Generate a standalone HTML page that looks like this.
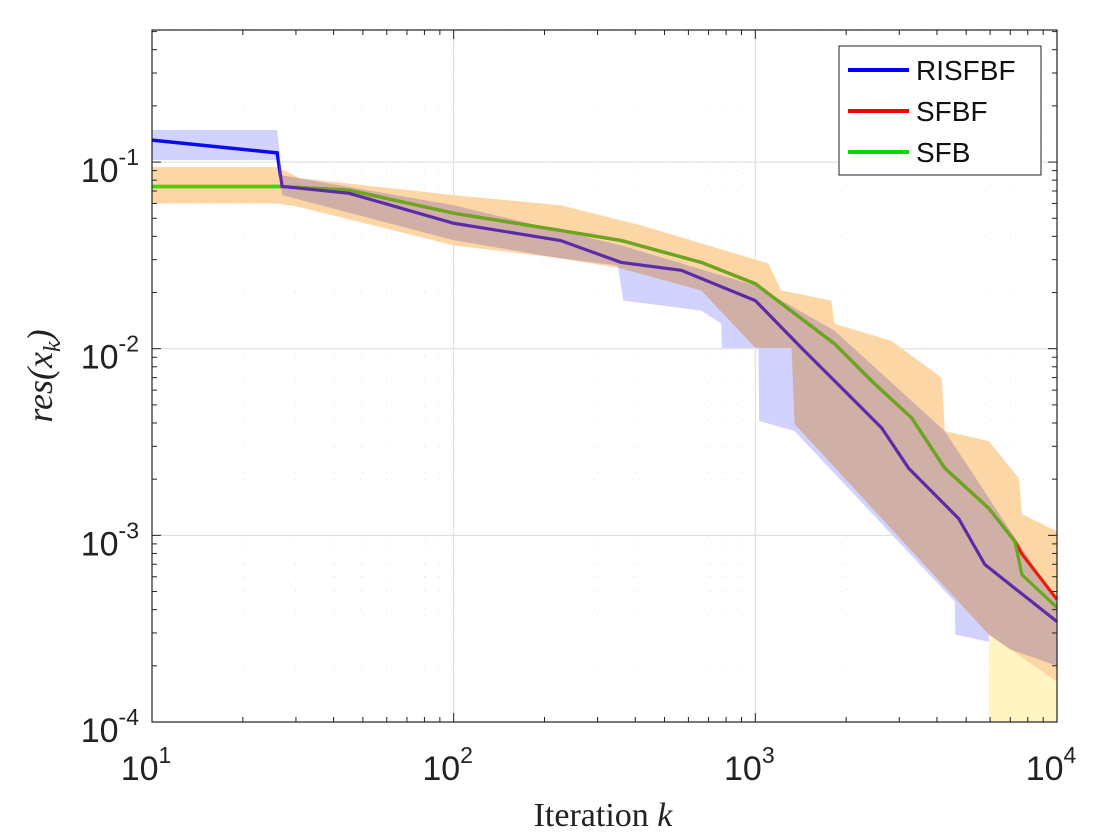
<!DOCTYPE html>
<html><head><meta charset="utf-8"><style>
body{margin:0;background:#fff;}
svg{display:block;font-family:"Liberation Sans",sans-serif;}
</style></head><body>
<svg id="chart" width="1120" height="840" viewBox="0 0 1120 840" xmlns="http://www.w3.org/2000/svg">
<defs>
<clipPath id="plotclip"><rect x="152" y="30" width="905" height="692"/></clipPath>
<clipPath id="lateclip"><rect x="279" y="0" width="900" height="840"/></clipPath>
<clipPath id="earlyclip"><rect x="0" y="0" width="279" height="840"/></clipPath>
</defs>
<rect x="152" y="30" width="905" height="692" fill="#fff"/>
<g id="grid"></g>
<g id="bands" clip-path="url(#plotclip)"></g>
<g id="lines" clip-path="url(#plotclip)"></g>
<g id="axes"></g>
<text x="603" y="826" text-anchor="middle" font-family="Liberation Serif,serif" font-size="34" fill="#222">Iteration <tspan font-style="italic">k</tspan></text>
<text transform="translate(52,376) rotate(-90)" text-anchor="middle" font-family="Liberation Serif,serif" font-size="36" font-style="italic" fill="#222">res(x<tspan font-size="24" dy="8">k</tspan><tspan dy="-8">)</tspan></text>
<g>
<rect x="839" y="46" width="202" height="129" fill="#fff" stroke="#222" stroke-width="1"/>
<line x1="848" y1="70" x2="909" y2="70" stroke="#0000ff" stroke-width="4"/>
<text x="916" y="80" font-size="28" fill="#111">RISFBF</text>
<line x1="848" y1="111" x2="909" y2="111" stroke="#ff0000" stroke-width="4"/>
<text x="916" y="121" font-size="28" fill="#111">SFBF</text>
<line x1="848" y1="152" x2="909" y2="152" stroke="#00dd00" stroke-width="4"/>
<text x="916" y="162" font-size="28" fill="#111">SFB</text>
</g>
</svg>
<script>
const xTickExps=[1,2,3,4];
const yTickExps=[-1,-2,-3,-4];
const risK=[10,26,27,45,100,226,359,568,1000,1422,1977,2624,3222,4721,5764,7477,10000];
const risV=[0.131,0.112,0.074,0.068,0.047,0.038,0.029,0.0263,0.0181,0.0101,0.00594,0.00376,0.00229,0.00123,0.000698,0.0005,0.000345];
const sfbK=[10,27,45,100,226,359,662,1000,1829,2427,3296,4246,5943,7250,7650,10000];
const sfbV=[0.074,0.074,0.0707,0.0532,0.043,0.038,0.029,0.0223,0.01064,0.00673,0.00426,0.00229,0.001396,0.000929,0.000616,0.00041];
const sfbfK=[10,27,45,100,226,359,662,1000,1829,2427,3296,4246,5943,7250,7650,10000];
const sfbfV=[0.074,0.074,0.0707,0.0532,0.043,0.038,0.029,0.0223,0.01064,0.00673,0.00426,0.00229,0.001396,0.000929,0.000795,0.000453];
const orUpK=[10,26,31,100,226,418,662,1104,1219,1786,1829,2831,4150,4246,5943,7477,7650,10000];
const orUpV=[0.094,0.094,0.082,0.0665,0.0587,0.0458,0.0367,0.0286,0.0205,0.0181,0.0136,0.011,0.00698,0.00362,0.0032,0.00202,0.0013,0.00105];
const orLoK=[10,26,30,100,226,359,662,1000,1318,1349,5943,10000];
const orLoV=[0.06,0.06,0.058,0.0358,0.0305,0.0269,0.0205,0.0101,0.0101,0.00395,0.000294,0.000164];
const tailK=[5943,10000];
const tailUpV=[0.000294,0.000164];
const tailLoV=[0.0001,0.0001];
const blUpK=[10,26,27,100,359,1000,1829,4246,10000];
const blUpV=[0.1486,0.1486,0.085,0.0587,0.0358,0.0218,0.0125,0.00362,0.000442];
const blLoK=[10,26,27,100,226,350,365,662,771,775,1023,1030,1349,4581,4600,5943,10000];
const blLoV=[0.1026,0.1026,0.0665,0.0381,0.0305,0.0279,0.0181,0.016,0.0136,0.0101,0.0101,0.0041,0.00362,0.000442,0.000294,0.000269,0.0002];

const NS='http://www.w3.org/2000/svg';
const L=152,R=1057,T=30,B=722;
function xs(k){return L+(Math.log10(k)-1)/3*(R-L);}
function ys(v){return B-(Math.log10(v)+4)/(Math.log10(0.51)+4)*(B-T);}
function mk(tag,attrs,parent){const e=document.createElementNS(NS,tag);for(const a in attrs)e.setAttribute(a,attrs[a]);parent.appendChild(e);return e;}
const grid=document.getElementById('grid'),axes=document.getElementById('axes'),bands=document.getElementById('bands'),lines=document.getElementById('lines');

for(let e=1;e<=4;e++){
  const x=xs(Math.pow(10,e));
  if(e>1&&e<4){const g=mk('line',{x1:x,y1:T,x2:x,y2:B,stroke:'#dcdcdc','stroke-width':1},grid);
  
  }
  if(e<4)for(let m=2;m<=9;m++){const xm=xs(m*Math.pow(10,e));
    const g=mk('line',{x1:xm,y1:T,x2:xm,y2:B,stroke:'#e8e8e8','stroke-width':1,'stroke-dasharray':'1 12'},grid);
    
    }
}
for(let e=-4;e<=-1;e++){
  const y=ys(Math.pow(10,e));
  if(e>-4){const g=mk('line',{x1:L,y1:y,x2:R,y2:y,stroke:'#dcdcdc','stroke-width':1},grid);
  
  }
  for(let m=2;m<=9;m++){const v=m*Math.pow(10,e);if(ys(v)<T)continue;
    const g=mk('line',{x1:L,y1:ys(v),x2:R,y2:ys(v),stroke:'#e8e8e8','stroke-width':1,'stroke-dasharray':'1 12'},grid);
    
    }
}
function bandPath(kU,vU,kL,vL){let d='';kU.forEach((k,i)=>{d+=(i?'L':'M')+xs(k)+','+ys(vU[i]);});
  for(let i=kL.length-1;i>=0;i--)d+='L'+xs(kL[i])+','+ys(vL[i]);return d+'Z';}
function linePath(K,V){return K.map((k,i)=>(i?'L':'M')+xs(k)+','+ys(V[i])).join('');}

const bb=mk('path',{d:bandPath(blUpK,blUpV,blLoK,blLoV),fill:'#d2d2ff'},bands);


const yb=mk('path',{d:bandPath(tailK,tailUpV,tailK,tailLoV),fill:'#fff6c4'},bands);


const ob=mk('path',{d:bandPath(orUpK,orUpV,orLoK,orLoV),fill:'#fdd6a6',style:'mix-blend-mode:multiply'},bands);



const lr=mk('path',{d:linePath(sfbfK,sfbfV),fill:'none',stroke:'#e8200a','stroke-width':3.2},lines);


const lg=mk('path',{d:linePath(sfbK,sfbV),fill:'none',stroke:'#66a81e','stroke-width':3.2,'clip-path':'url(#lateclip)'},lines);


const lg2=mk('path',{d:linePath(sfbK,sfbV),fill:'none',stroke:'#33dd00','stroke-width':3.5,'clip-path':'url(#earlyclip)'},lines);


const lb=mk('path',{d:linePath(risK,risV),fill:'none',stroke:'#5a2ca8','stroke-width':3.2,'clip-path':'url(#lateclip)'},lines);


const lb2=mk('path',{d:linePath(risK,risV),fill:'none',stroke:'#0a0aee','stroke-width':3.5,'clip-path':'url(#earlyclip)'},lines);



const box=mk('rect',{x:L,y:T,width:R-L,height:B-T,fill:'none',stroke:'#222','stroke-width':1.2},axes);


for(let e=1;e<=4;e++){
  const x=xs(Math.pow(10,e));
  mk('line',{x1:x,y1:B,x2:x,y2:B-9,stroke:'#222'},axes);mk('line',{x1:x,y1:T,x2:x,y2:T+9,stroke:'#222'},axes);
  if(e<4)for(let m=2;m<=9;m++){const xm=xs(m*Math.pow(10,e));
    mk('line',{x1:xm,y1:B,x2:xm,y2:B-5,stroke:'#222'},axes);mk('line',{x1:xm,y1:T,x2:xm,y2:T+5,stroke:'#222'},axes);}
}
for(let e=-4;e<=-1;e++){
  const y=ys(Math.pow(10,e));
  mk('line',{x1:L,y1:y,x2:L+9,y2:y,stroke:'#222'},axes);mk('line',{x1:R,y1:y,x2:R-9,y2:y,stroke:'#222'},axes);
  for(let m=2;m<=9;m++){const v=m*Math.pow(10,e);if(ys(v)<T)continue;
    mk('line',{x1:L,y1:ys(v),x2:L+5,y2:ys(v),stroke:'#222'},axes);mk('line',{x1:R,y1:ys(v),x2:R-5,y2:ys(v),stroke:'#222'},axes);}
}
xTickExps.forEach(e=>{
  const t=mk('text',{x:xs(Math.pow(10,e))-6,y:780,'text-anchor':'middle','font-size':34,fill:'#222'},axes);
  
  
  t.innerHTML='10<tspan font-size="23" dy="-17">'+e+'</tspan>';
});
yTickExps.forEach(e=>{
  const t=mk('text',{x:139,y:ys(Math.pow(10,e))+20,'text-anchor':'end','font-size':34,fill:'#222'},axes);
  
  
  t.innerHTML='10<tspan font-size="23" dy="-17">'+e+'</tspan>';
});
</script>
</body></html>
